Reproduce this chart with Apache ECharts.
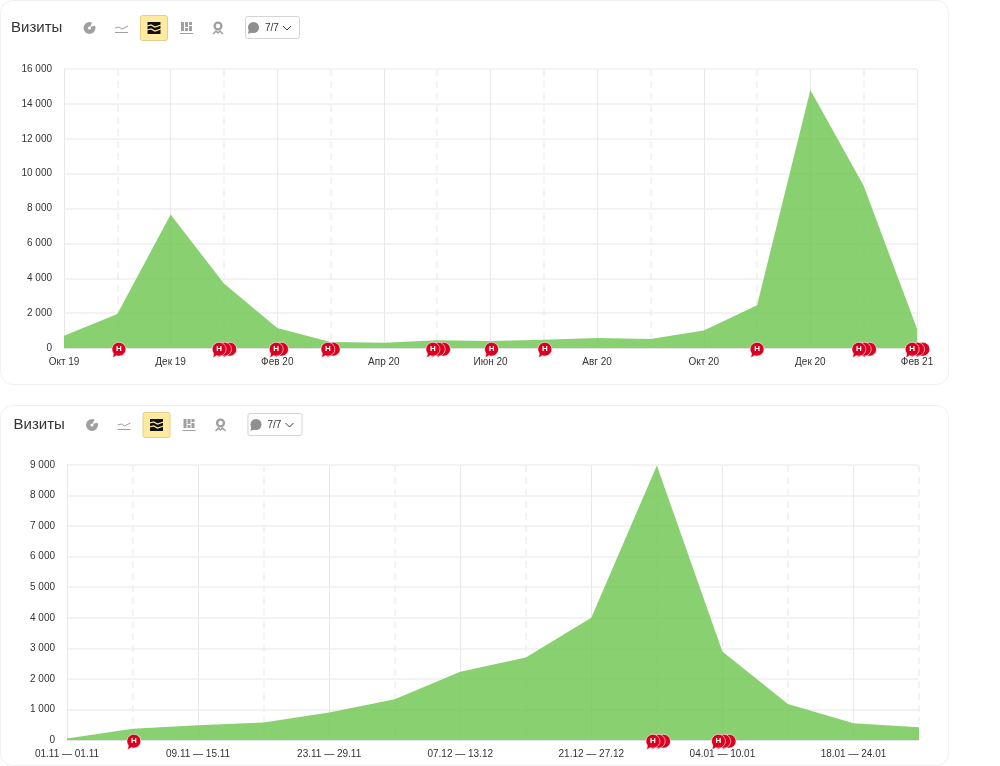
<!DOCTYPE html>
<html>
<head>
    <meta charset="utf-8">
    <script src="https://cdn.jsdelivr.net/npm/echarts@6/dist/echarts.min.js"></script>
    <style>
        html, body { margin: 0; padding: 0; background: #fff; }
    </style>
</head>
<body>
<div id="main" style="width: 1000px;height:766px;"></div>
<script type="text/javascript">
    var myChart = echarts.init(document.getElementById('main'));

    // верхний график, по месяцам
    var monthLabels = ['Окт 19', 'Ноя 19', 'Дек 19', 'Янв 20', 'Фев 20', 'Мар 20', 'Апр 20', 'Май 20', 'Июн 20',
        'Июл 20', 'Авг 20', 'Сен 20', 'Окт 20', 'Ноя 20', 'Дек 20', 'Янв 21', 'Фев 21'];
    var monthVisits = [700, 1950, 7650, 3700, 1150, 350, 300, 450, 400, 470, 580, 520, 1000, 2450, 14800, 9300, 1100];
    // заметки: положение на оси и сколько их в стопке
    var monthNotePos = [1.03, 2.91, 3.98, 4.95, 6.92, 8.02, 9.02, 13.0, 14.91, 15.91];
    var monthNoteCount = [1, 3, 2, 2, 3, 1, 1, 1, 3, 3];

    // нижний график, по неделям
    var weekLabels = ['01.11 — 01.11', '02.11 — 08.11', '09.11 — 15.11', '16.11 — 22.11', '23.11 — 29.11',
        '30.11 — 06.12', '07.12 — 13.12', '14.12 — 20.12', '21.12 — 27.12', '28.12 — 03.01', '04.01 — 10.01',
        '11.01 — 17.01', '18.01 — 24.01', '25.01 — 31.01'];
    var weekVisits = [50, 370, 480, 570, 900, 1330, 2230, 2700, 4000, 8980, 2900, 1180, 550, 420];
    var weekNotePos = [1.02, 8.94, 9.94];
    var weekNoteCount = [1, 3, 3];

    var fontName = '"Liberation Sans", Arial, sans-serif';
    var gridColor = '#efefef';
    var noteColor = '#dc0020';
    var bubblePath = 'path://M6.5 0A6.5 6.5 0 0 1 6.5 13C5.6 13 4.8 12.8 4 12.5C3 13.4 1.6 14.2 0.3 14.5C1 13.4 1.3 12.2 1.3 10.4A6.5 6.5 0 0 1 6.5 0Z';

    function formatNumber(v) {
        return String(v).replace(/\B(?=(\d{3})+$)/g, ' ');
    }

    function xAxes(gridIndex, labels, noteMax) {
        return [{
            // подписи и сплошные линии
            type: 'category', gridIndex: gridIndex, data: labels, boundaryGap: false,
            axisTick: {show: false},
            axisLine: {lineStyle: {color: '#e4e4e4'}},
            axisLabel: {interval: 1, margin: 9, fontSize: 10, color: '#333', fontFamily: fontName, hideOverlap: false},
            splitLine: {show: true, interval: function (i) { return i % 2 === 0; }, lineStyle: {color: '#e9e9e9'}}
        }, {
            // пунктир между ними
            type: 'category', gridIndex: gridIndex, data: labels, boundaryGap: false, position: 'bottom',
            axisTick: {show: false}, axisLine: {show: false}, axisLabel: {show: false},
            splitLine: {show: true, interval: function (i) { return i % 2 === 1; }, lineStyle: {color: gridColor, width: 1.5, type: [7, 5]}}
        }, {
            // ось для заметок
            type: 'value', gridIndex: gridIndex, min: 0, max: noteMax, show: false
        }];
    }

    function yAxis(gridIndex, max, interval) {
        return {
            type: 'value', gridIndex: gridIndex, min: 0, max: max, interval: interval,
            axisTick: {show: false}, axisLine: {show: false},
            axisLabel: {margin: 12, fontSize: 10, color: '#333', fontFamily: fontName, padding: [2, 0, 0, 0], formatter: formatNumber},
            splitLine: {lineStyle: {color: gridColor, width: 1.5}}
        };
    }

    function areaSeries(axisIndex, values) {
        return {
            type: 'line', xAxisIndex: axisIndex, yAxisIndex: axisIndex / 3, data: values,
            symbol: 'none', silent: true, z: 3,
            lineStyle: {width: 0},
            areaStyle: {color: '#6cc64c', opacity: 0.8}
        };
    }

    function noteSeries(axisIndex, positions, counts) {
        var front = [], back = [];
        positions.forEach(function (p, i) {
            front.push({value: [p, 0]});
            for (var k = counts[i] - 1; k > 0; k--) {
                back.push({value: [p, 0], symbolOffset: [k * 5.3, 2]});
            }
        });
        var base = {
            type: 'scatter', xAxisIndex: axisIndex + 2, yAxisIndex: axisIndex / 3, clip: false, silent: true,
            symbol: bubblePath, symbolSize: [14, 15.5], symbolOffset: [0, 2],
            itemStyle: {color: noteColor, borderColor: '#fff', borderWidth: 0.6, opacity: 1}
        };
        return [
            Object.assign({}, base, {data: back, z: 5}),
            Object.assign({}, base, {
                data: front, z: 6,
                label: {show: true, position: 'inside', offset: [0, -1], formatter: 'Н', color: '#fff', fontSize: 8, fontWeight: 'bold', fontFamily: fontName}
            })
        ];
    }

    // шапка карточки: заголовок, иконки, кнопка заметок
    function toolbar(dx, dy, cardY, cardH) {
        var grey = '#a0a0a0';
        return [
            {type: 'rect', z: -1, shape: {x: 0.5, y: cardY + 0.5, width: 948, height: cardH, r: 12}, style: {fill: '#fff', stroke: '#f0f0f0'}},
            {type: 'text', x: dx + 11, y: dy + 20, style: {text: 'Визиты', font: '15px ' + fontName, fill: '#333'}},
            // круговая
            {type: 'circle', shape: {cx: dx + 89.5, cy: dy + 28, r: 3.8}, style: {fill: 'none', stroke: grey, lineWidth: 4.4}},
            {type: 'polygon', shape: {points: [[dx + 90, dy + 27], [dx + 92.5, dy + 21.5], [dx + 95.5, dy + 25.5]]}, style: {fill: '#fff'}},
            // линии
            {type: 'polyline', shape: {points: [[dx + 115, dy + 28], [dx + 119, dy + 27], [dx + 122, dy + 29], [dx + 128, dy + 26]]}, style: {fill: 'none', stroke: grey, lineWidth: 1}},
            {type: 'line', shape: {x1: dx + 115, y1: dy + 32.5, x2: dx + 128, y2: dy + 32.5}, style: {stroke: grey, lineWidth: 1}},
            // активная кнопка с областями
            {type: 'rect', shape: {x: dx + 140.5, y: dy + 15.5, width: 27, height: 25, r: 2}, style: {fill: '#ffeba0', stroke: '#e3cf8a'}},
            {type: 'rect', shape: {x: dx + 147.5, y: dy + 22, width: 13, height: 12}, style: {fill: '#111'}},
            {type: 'polyline', shape: {points: [[dx + 147, dy + 26], [dx + 151, dy + 25], [dx + 155, dy + 27], [dx + 161, dy + 25]]}, style: {fill: 'none', stroke: '#ffeba0', lineWidth: 1.2}},
            {type: 'polyline', shape: {points: [[dx + 147, dy + 30], [dx + 151, dy + 29], [dx + 155, dy + 31], [dx + 161, dy + 29]]}, style: {fill: 'none', stroke: '#ffeba0', lineWidth: 1.2}},
            // столбики
            {type: 'rect', shape: {x: dx + 181, y: dy + 22, width: 3, height: 9}, style: {fill: grey}},
            {type: 'rect', shape: {x: dx + 185, y: dy + 22, width: 3, height: 5}, style: {fill: grey}},
            {type: 'rect', shape: {x: dx + 185, y: dy + 28, width: 3, height: 3}, style: {fill: grey}},
            {type: 'rect', shape: {x: dx + 189, y: dy + 22, width: 3, height: 3}, style: {fill: grey}},
            {type: 'rect', shape: {x: dx + 189, y: dy + 26, width: 3, height: 5}, style: {fill: grey}},
            {type: 'line', shape: {x1: dx + 180, y1: dy + 33.5, x2: dx + 193, y2: dy + 33.5}, style: {stroke: grey, lineWidth: 1}},
            // метка на карте
            {type: 'circle', shape: {cx: dx + 218, cy: dy + 26, r: 3.4}, style: {fill: 'none', stroke: grey, lineWidth: 2.4}},
            {type: 'polyline', shape: {points: [[dx + 213, dy + 34], [dx + 216, dy + 31], [dx + 218, dy + 33], [dx + 220, dy + 31], [dx + 223, dy + 34]]}, style: {fill: 'none', stroke: grey, lineWidth: 1.5}},
            // кнопка заметок
            {type: 'rect', shape: {x: dx + 245.5, y: dy + 16.5, width: 54, height: 22, r: 2}, style: {fill: '#fff', stroke: '#d4d4d4'}},
            {type: 'circle', shape: {cx: dx + 253.5, cy: dy + 27.5, r: 5.5}, style: {fill: '#8f8f8f'}},
            {type: 'polygon', shape: {points: [[dx + 249, dy + 29], [dx + 248, dy + 34], [dx + 253, dy + 32]]}, style: {fill: '#8f8f8f'}},
            {type: 'text', x: dx + 265, y: dy + 23, style: {text: '7/7', font: '10px ' + fontName, fill: '#333'}},
            {type: 'polyline', shape: {points: [[dx + 283, dy + 26], [dx + 287, dy + 30], [dx + 291, dy + 26]]}, style: {fill: 'none', stroke: '#444', lineWidth: 1}}
        ];
    }

    var option = {
        animation: false,
        backgroundColor: '#fff',
        textStyle: {fontFamily: fontName},
        grid: [
            {left: 64, top: 69, width: 853, height: 279, containLabel: false},
            {left: 67, top: 465, width: 852, height: 275, containLabel: false}
        ],
        xAxis: xAxes(0, monthLabels, 16).concat(xAxes(1, weekLabels, 13)),
        yAxis: [yAxis(0, 16000, 2000), yAxis(1, 9000, 1000)],
        series: [areaSeries(0, monthVisits), areaSeries(3, weekVisits)]
            .concat(noteSeries(0, monthNotePos, monthNoteCount))
            .concat(noteSeries(3, weekNotePos, weekNoteCount)),
        graphic: toolbar(0, 0, 0, 384).concat(toolbar(2.5, 397, 405, 360))
    };

    myChart.setOption(option);
</script>
</body>
</html>
